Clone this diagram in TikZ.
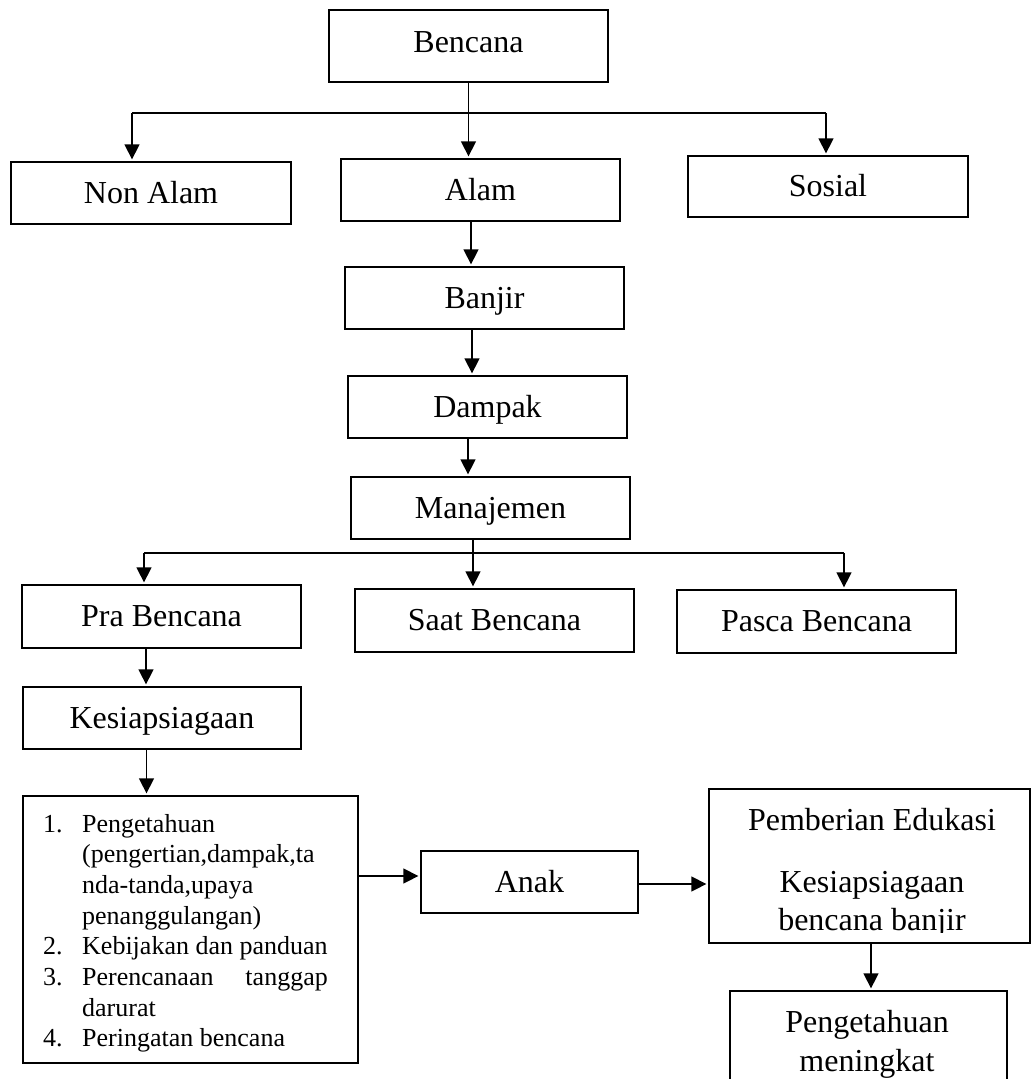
\documentclass[tikz,border=0pt]{standalone}
\usepackage{fontspec}
\setmainfont{Liberation Serif}
\usetikzlibrary{arrows.meta}
\begin{document}
\begin{tikzpicture}[x=1pt,y=-1pt,
  box/.style={draw, line width=2.9pt, inner sep=0pt, minimum width=279pt, minimum height=62pt,
              font=\fontsize{32}{38}\selectfont, text height=20pt, text depth=0pt},
  arr/.style={line width=1.4pt, shorten >=1.2pt, -{Triangle[length=15pt,width=15pt]}},
  conn/.style={line width=1.4pt},
  lst/.style={font=\fontsize{26}{30}\selectfont, anchor=base west, inner sep=0pt},
  big/.style={font=\fontsize{32}{38}\selectfont, anchor=base, inner sep=0pt}
]
\useasboundingbox (0,0) rectangle (1032,1079);
\begin{scope}
\clip (0,0) rectangle (1032,1079);

% boxes
\node[box, minimum height=72pt, text height=12pt] (bencana) at (468.5,46) {Bencana};
\node[box, minimum width=280pt] (nonalam) at (151,193) {Non Alam};
\node[box] (alam) at (480.5,190) {Alam};
\node[box, minimum width=280pt, minimum height=61pt] (sosial) at (828,186.5) {Sosial};
\node[box] (banjir) at (484.5,298) {Banjir};
\node[box] (dampak) at (487.5,407) {Dampak};
\node[box] (manajemen) at (490.5,508) {Manajemen};
\node[box, minimum height=63pt] (pra) at (161.5,616.5) {Pra Bencana};
\node[box, minimum height=63pt] (saat) at (494.5,620.5) {Saat Bencana};
\node[box, minimum height=63pt] (pasca) at (816.5,621.5) {Pasca Bencana};
\node[box, minimum width=278pt] (kesiap) at (162,718) {Kesiapsiagaan};
\node[box, minimum width=335pt, minimum height=267pt] (list) at (190.5,929.5) {};
\node[box, minimum width=217pt] (anak) at (529.5,882) {Anak};
\node[box, minimum width=321pt, minimum height=154pt] (edukasi) at (869.5,866) {};
\node[box, minimum width=277pt, minimum height=130pt] (hasil) at (868.5,1056) {};

% list text
\node[lst] (n1) at (43,832) {1.};
\node[lst] (t1a) at (82,832) {Pengetahuan};
\node[lst] (t1b) at (82,862.7) {(pengertian,dampak,ta};
\node[lst] (t1c) at (82,893.4) {nda-tanda,upaya};
\node[lst] (t1d) at (82,924.1) {penanggulangan)};
\node[lst] (n2) at (43,954.8) {2.};
\node[lst] (t2) at (82,954.8) {Kebijakan dan panduan};
\node[lst] (n3) at (43,985.5) {3.};
\node[lst] (t3a) at (82,985.5) {Perencanaan};
\node[lst, anchor=base east] (t3b) at (328,985.5) {tanggap};
\node[lst] (t3c) at (82,1016.2) {darurat};
\node[lst] (n4) at (43,1046.9) {4.};
\node[lst] (t4) at (82,1046.9) {Peringatan bencana};

% edukasi text (clipped at the bottom like the reference)
\begin{scope}
\clip (709,789) rectangle (1030,932);
\node[big] (e1) at (872,830) {Pemberian Edukasi};
\node[big] (e2) at (872,892) {Kesiapsiagaan};
\node[big] (e3) at (872,930) {bencana banjir};
\end{scope}
\node[big] (h1) at (867,1032) {Pengetahuan};
\node[big] (h2) at (867,1071) {meningkat};

% connectors: Bencana level
\coordinate (bl) at (132,113);
\coordinate (br) at (826,113);
\draw[conn] (bl) -- (br);
\draw[arr] (bencana.south) -- (bencana.south |- alam.north);
\draw[arr] (bl) -- (bl |- nonalam.north);
\draw[arr] (br) -- (br |- sosial.north);

% chain
\draw[arr] ([xshift=-9.5pt]alam.south) -- ([xshift=-9.5pt]alam.south |- banjir.north);
\draw[arr] ([xshift=-12.5pt]banjir.south) -- ([xshift=-12.5pt]banjir.south |- dampak.north);
\draw[arr] ([xshift=-19.5pt]dampak.south) -- ([xshift=-19.5pt]dampak.south |- manajemen.north);

% manajemen level
\coordinate (ml) at (144,553);
\coordinate (mr) at (844,553);
\draw[conn] (ml) -- (mr);
\draw[arr] ([xshift=-17.5pt]manajemen.south) -- ([xshift=-17.5pt]manajemen.south |- saat.north);
\draw[arr] (ml) -- (ml |- pra.north);
\draw[arr] (mr) -- (mr |- pasca.north);

% lower chain
\draw[arr] ([xshift=-15.5pt]pra.south) -- ([xshift=-15.5pt]pra.south |- kesiap.north);
\draw[arr] ([xshift=-15.5pt]kesiap.south) -- ([xshift=-15.5pt]kesiap.south |- list.north);
\coordinate (ain) at ([yshift=6pt]anak.west);
\coordinate (aout) at ([yshift=-2pt]anak.east);
\draw[arr] (list.east |- ain) -- (ain);
\draw[arr] (aout) -- (edukasi.west |- aout);
\draw[arr] ([xshift=1.5pt]edukasi.south) -- ([xshift=1.5pt]edukasi.south |- hasil.north);
\end{scope}
\end{tikzpicture}
\end{document}
